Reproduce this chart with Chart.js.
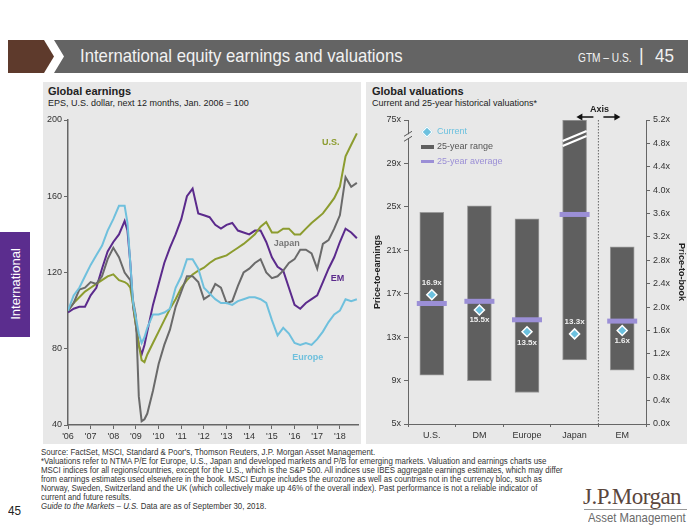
<!DOCTYPE html>
<html>
<head>
<meta charset="utf-8">
<script src="https://cdn.jsdelivr.net/npm/chart.js@4.4.0/dist/chart.umd.min.js"></script>
<style>
  body { margin: 0; width: 700px; height: 525px; background: #fff; position: relative; overflow: hidden;
         font-family: 'Liberation Sans', Arial, sans-serif; color: #222; }
  .abs { position: absolute; white-space: nowrap; }
  .panel { position: absolute; background: #e8e8e8; top: 82px; height: 362px; }
  .ptitle { position: absolute; font-weight: bold; font-size: 11px; }
  .psub { position: absolute; font-size: 9px; }
  .narrow { transform-origin: left top; }
  #foot { position: absolute; left: 41px; top: 448px; font-size: 8.5px; line-height: 9px; color: #333;
          transform: scaleX(0.93); transform-origin: left top; white-space: nowrap; }
  canvas { position: absolute; }
</style>
</head>
<body>

<svg class="abs" style="left:0;top:0" width="700" height="80">
  <polygon points="8,40 44,40 54,56.5 44,73 8,73" fill="#5e3a2c"/>
  <polygon points="54,40 688,40 688,73 54,73 64,56.5" fill="#646464"/>
</svg>
<div class="abs narrow" style="left:80px;top:45px;font-size:19px;color:#f2f2f2;transform:scaleX(0.88);">International equity earnings and valuations</div>
<div class="abs narrow" style="left:578px;top:50px;font-size:13px;color:#f2f2f2;transform:scaleX(0.78);">GTM – U.S.</div>
<div class="abs narrow" style="left:639px;top:45px;font-size:18px;color:#f2f2f2;">|</div>
<div class="abs narrow" style="left:655px;top:45px;font-size:19px;color:#f2f2f2;transform:scaleX(0.9);">45</div>

<div class="abs" style="left:0;top:232px;width:30px;height:105px;background:#5b2d8e;"></div>
<div class="abs" style="left:15px;top:284px;transform:translate(-50%,-50%) rotate(-90deg);color:#fff;font-size:13px;">International</div>

<div class="panel" style="left:43px;width:318px;"></div>
<div class="panel" style="left:366px;width:321px;"></div>

<div class="ptitle" style="left:48px;top:85px;">Global earnings</div>
<div class="psub" style="left:48px;top:98px;">EPS, U.S. dollar, next 12 months, Jan. 2006 = 100</div>
<div class="ptitle" style="left:372px;top:85px;">Global valuations</div>
<div class="psub" style="left:372px;top:98px;">Current and 25-year historical valuations*</div>

<canvas id="earnings" width="318" height="362" style="left:43px;top:82px;"></canvas>
<canvas id="valuations" width="321" height="362" style="left:366px;top:82px;"></canvas>

<!-- legend of the valuations chart -->
<div class="abs" style="left:423px;top:128px;width:6px;height:6px;background:#6cc1df;border:1px solid #fff;transform:rotate(45deg);"></div>
<div class="abs" style="left:437px;top:126px;font-size:9px;color:#6cc1df;">Current</div>
<div class="abs" style="left:421px;top:145px;width:13px;height:4px;background:#5f5f5f;"></div>
<div class="abs" style="left:437px;top:141px;font-size:9px;color:#555;">25-year range</div>
<div class="abs" style="left:421px;top:160px;width:13px;height:3px;background:#9b8fd6;"></div>
<div class="abs" style="left:437px;top:156px;font-size:9px;color:#9b8fd6;">25-year average</div>

<div id="foot">
Source: FactSet, MSCI, Standard &amp; Poor's, Thomson Reuters, J.P. Morgan Asset Management.<br>
*Valuations refer to NTMA P/E for Europe, U.S., Japan and developed markets and P/B for emerging markets. Valuation and earnings charts use<br>
MSCI indices for all regions/countries, except for the U.S., which is the S&amp;P 500. All indices use IBES aggregate earnings estimates, which may differ<br>
from earnings estimates used elsewhere in the book. MSCI Europe includes the eurozone as well as countries not in the currency bloc, such as<br>
Norway, Sweden, Switzerland and the UK (which collectively make up 46% of the overall index). Past performance is not a reliable indicator of<br>
current and future results.<br>
<i>Guide to the Markets – U.S.</i> Data are as of September 30, 2018.
</div>
<div class="abs narrow" style="left:8px;top:503px;font-size:13px;color:#222;transform:scaleX(0.9);">45</div>
<div class="abs" style="left:583px;top:484px;font-family:'Liberation Serif',serif;font-size:23px;color:#5a463c;letter-spacing:-0.5px;">J.P.Morgan</div>
<div class="abs" style="left:584px;top:509px;width:103px;height:1px;background:#999;"></div>
<div class="abs narrow" style="left:588px;top:510px;font-size:13.5px;color:#6a6a6a;transform:scaleX(0.84);">Asset Management</div>

<script>
// ---------- Global earnings (EPS index, Jan. 2006 = 100) ----------
const years = [2006, 2006.25, 2006.5, 2006.75, 2007, 2007.25, 2007.5, 2007.75,
  2008, 2008.25, 2008.5, 2008.625, 2008.75, 2008.875,
  2009, 2009.125, 2009.25, 2009.375, 2009.5, 2009.75,
  2010, 2010.25, 2010.5, 2010.75, 2011, 2011.25, 2011.5, 2011.75,
  2012, 2012.25, 2012.5, 2012.75, 2013, 2013.25, 2013.5, 2013.75,
  2014, 2014.25, 2014.5, 2014.75, 2015, 2015.25, 2015.5, 2015.75,
  2016, 2016.25, 2016.5, 2016.75, 2017, 2017.25, 2017.5, 2017.75,
  2018, 2018.25, 2018.5, 2018.75];

const usEps = [100, 104, 107, 110, 112, 114, 116, 118,
  119, 116, 115, 114, 112, 103,
  92, 82, 74, 73, 77, 83,
  89, 95, 101, 106, 112, 116, 119, 121,
  122.5, 125, 127, 128, 129, 131, 133, 135,
  137.5, 140, 144, 146.5, 141, 141, 143, 143,
  140, 140, 143, 146, 148.5, 151, 155, 159,
  165, 181, 187, 193];

const japanEps = [100, 104, 111, 112, 115, 114, 118, 127,
  133, 128, 120, 118, 116, 105,
  97, 55, 42, 43, 46, 58,
  72, 82, 90, 102, 110, 118, 118, 115,
  106, 108, 114, 112, 104, 105, 113, 120,
  122, 125, 127, 120, 117, 118, 121, 125,
  127, 132, 132, 130, 122, 135, 137, 143,
  150, 170, 165, 167];

const emEps = [99, 101, 102, 102, 108, 112, 122, 131,
  136, 140, 147, 142, 125, 102,
  92, 82, 77, 82, 89, 103,
  114, 125, 133, 140, 148, 160, 164, 151,
  150, 149, 145, 143, 145, 146, 142, 141,
  140, 142, 142, 136, 128, 123, 121, 112,
  103, 101, 104, 106, 108, 115, 122, 128,
  136, 143, 141, 138];

const europeEps = [100, 108, 112, 118, 124, 129, 134, 142,
  148, 155, 155, 146, 125, 104,
  96, 88, 83, 86, 91, 98,
  98, 99, 101, 112, 118, 127, 127, 122,
  112, 109, 106, 104, 104, 103, 105, 106,
  107, 107, 106, 104, 95, 87, 91, 88,
  83, 82, 83, 82, 85, 89, 94, 98,
  100, 106, 105, 106];

const yearLabels = ["'06", "'07", "'08", "'09", "'10", "'11", "'12", "'13", "'14", "'15", "'16", "'17", "'18"];

// ---------- Global valuations ----------
const regions = ['U.S.', 'DM', 'Europe', 'Japan', 'EM'];
const rangeLow = [9.5, 9.0, 7.9, 10.9, 0.92];
const rangeHigh = [24.5, 25.1, 23.9, 75, 3.03];
const avgVal = [16.1, 16.3, 14.6, 24.3, 1.76];
const currentVal = [16.9, 15.5, 13.5, 13.3, 1.6];
const onPriceToBook = [false, false, false, false, true];   // EM is P/B, the rest P/E

const colors = {
  us: '#8c9c2f', japan: '#6a6a6a', em: '#5b2a8c', europe: '#6fc0dd',
  range: '#5f5f5f', avg: '#9b8fd6', current: '#6cc1df', axis: '#666'
};

Chart.defaults.font.family = "'Liberation Sans', Arial, sans-serif";
Chart.defaults.font.size = 9;
Chart.defaults.color = '#333';

function series(vals) {
  return years.map((x, i) => ({ x: x, y: vals[i] }));
}

const tagPlugin = {
  id: 'tags',
  afterDatasetsDraw(chart) {
    const tags = [
      { text: 'U.S.', x: 2017.6, y: 188, color: colors.us },
      { text: 'Japan', x: 2015.65, y: 135.4, color: '#777' },
      { text: 'EM', x: 2017.9, y: 117, color: colors.em },
      { text: 'Europe', x: 2016.58, y: 75.4, color: colors.europe }
    ];
    const ctx = chart.ctx, sx = chart.scales.x, sy = chart.scales.y;
    ctx.save();
    ctx.font = "bold 9px 'Liberation Sans', Arial";
    ctx.textAlign = 'center';
    ctx.textBaseline = 'middle';
    tags.forEach(t => {
      ctx.fillStyle = t.color;
      ctx.fillText(t.text, sx.getPixelForValue(t.x), sy.getPixelForValue(t.y));
    });
    ctx.restore();
  }
};

new Chart(document.getElementById('earnings'), {
  type: 'line',
  data: {
    datasets: [
      { label: 'Europe', data: series(europeEps), borderColor: colors.europe },
      { label: 'Japan', data: series(japanEps), borderColor: colors.japan },
      { label: 'U.S.', data: series(usEps), borderColor: colors.us },
      { label: 'EM', data: series(emEps), borderColor: colors.em }
    ]
  },
  options: {
    responsive: false,
    animation: false,
    layout: { padding: { top: 38, right: 3, left: 0, bottom: 0 } },
    elements: { point: { radius: 0 }, line: { borderWidth: 2, tension: 0 } },
    plugins: { legend: { display: false }, tooltip: { enabled: false } },
    scales: {
      x: {
        type: 'linear', min: 2006, max: 2018.8,
        afterFit: s => { s.height = 19; },
        ticks: { stepSize: 1, includeBounds: false, autoSkip: false, maxRotation: 0, padding: 2,
                 callback: v => yearLabels[v - 2006] },
        grid: { drawOnChartArea: false, tickLength: 4, color: colors.axis },
        border: { color: colors.axis, width: 1.5 }
      },
      y: {
        min: 40, max: 200,
        afterFit: s => { s.width = 25; },
        ticks: { stepSize: 40, padding: 2 },
        grid: { drawOnChartArea: false, tickLength: 4, color: colors.axis },
        border: { color: colors.axis, width: 1.5 }
      }
    }
  },
  plugins: [tagPlugin]
});

// the P/E axis is broken above 29x: 29x..75x is squeezed into one step
const brk = v => v <= 29 ? v : 29 + (v - 29) * 4 / 46;

const pe = arr => arr.map((v, i) => onPriceToBook[i] ? null : v);
const pb = arr => arr.map((v, i) => onPriceToBook[i] ? v : null);

const rangePE = rangeLow.map((lo, i) => onPriceToBook[i] ? null : [brk(lo), brk(rangeHigh[i])]);
const rangePB = rangeLow.map((lo, i) => onPriceToBook[i] ? [lo, rangeHigh[i]] : null);

const barStyle = { type: 'bar', backgroundColor: colors.range, borderColor: '#9a9a9a', borderWidth: 1,
                   borderSkipped: false, barThickness: 24, grouped: false, order: 3 };
const avgStyle = { type: 'line', showLine: false, pointStyle: 'line', pointRadius: 15,
                   pointBorderWidth: 5, borderColor: colors.avg, order: 2 };
const curStyle = { type: 'line', showLine: false, pointStyle: 'rectRot', pointRadius: 5,
                   pointBackgroundColor: colors.current, pointBorderColor: '#fff', pointBorderWidth: 1.5, order: 1 };

const valuationPlugin = {
  id: 'valuationMarks',
  afterDatasetsDraw(chart) {
    const ctx = chart.ctx, a = chart.chartArea, sx = chart.scales.x, sy = chart.scales.y;
    ctx.save();
    // separator between the P/E and the P/B group
    const sep = (sx.getPixelForValue(3) + sx.getPixelForValue(4)) / 2;
    ctx.strokeStyle = '#666';
    ctx.lineWidth = 1;
    ctx.setLineDash([1.5, 1.5]);
    ctx.beginPath(); ctx.moveTo(sep, a.top); ctx.lineTo(sep, a.bottom); ctx.stroke();
    ctx.setLineDash([]);
    // "Axis" caption with arrows
    ctx.fillStyle = '#222';
    ctx.font = "bold 9px 'Liberation Sans', Arial";
    ctx.textAlign = 'center';
    ctx.textBaseline = 'middle';
    ctx.fillText('Axis', sep + 1, a.top - 10);
    const ay = a.top - 3;
    ctx.strokeStyle = '#111'; ctx.lineWidth = 1.5;
    [[-5, -20], [5, 20]].forEach(([from, to]) => {
      ctx.beginPath(); ctx.moveTo(sep + from, ay); ctx.lineTo(sep + to, ay); ctx.stroke();
      const d = Math.sign(to);
      ctx.fillStyle = '#111';
      ctx.beginPath();
      ctx.moveTo(sep + to + d * 2, ay); ctx.lineTo(sep + to - d * 4, ay - 3.5); ctx.lineTo(sep + to - d * 4, ay + 3.5);
      ctx.closePath(); ctx.fill();
    });
    // break marks on the Japan bar and on the P/E axis
    const jx = sx.getPixelForValue(3), yb = sy.getPixelForValue(31.3);
    ctx.strokeStyle = '#fff'; ctx.lineWidth = 2;
    [-2.5, 2.5].forEach(o => {
      ctx.beginPath(); ctx.moveTo(jx - 12, yb + o + 5); ctx.lineTo(jx + 12, yb + o - 5); ctx.stroke();
    });
    const ly = sy.getPixelForValue(31.5);
    ctx.strokeStyle = '#e8e8e8'; ctx.lineWidth = 3;
    ctx.beginPath(); ctx.moveTo(a.left, ly - 2); ctx.lineTo(a.left, ly + 2); ctx.stroke();
    ctx.strokeStyle = '#555'; ctx.lineWidth = 1;
    [-2.5, 2.5].forEach(o => {
      ctx.beginPath(); ctx.moveTo(a.left - 4, ly + o + 2.5); ctx.lineTo(a.left + 4, ly + o - 2.5); ctx.stroke();
    });
    // value labels next to the current diamonds
    const side = [-12, 10, 11, -12, 10];
    ctx.font = "bold 8px 'Liberation Sans', Arial";
    ctx.fillStyle = '#f0f0f0';
    currentVal.forEach((v, i) => {
      const scale = onPriceToBook[i] ? chart.scales.y1 : sy;
      const x = sx.getPixelForValue(i), y = scale.getPixelForValue(v);
      ctx.fillText(v.toFixed(1) + 'x', x, y + side[i]);
    });
    ctx.restore();
  }
};

new Chart(document.getElementById('valuations'), {
  type: 'bar',
  data: {
    labels: regions,
    datasets: [
      Object.assign({ label: '25-year range', data: rangePE, yAxisID: 'y' }, barStyle),
      Object.assign({ label: '25-year range EM', data: rangePB, yAxisID: 'y1' }, barStyle),
      Object.assign({ label: '25-year average', data: pe(avgVal).map(v => v === null ? null : brk(v)), yAxisID: 'y' }, avgStyle),
      Object.assign({ label: '25-year average EM', data: pb(avgVal), yAxisID: 'y1' }, avgStyle),
      Object.assign({ label: 'Current', data: pe(currentVal), yAxisID: 'y' }, curStyle),
      Object.assign({ label: 'Current EM', data: pb(currentVal), yAxisID: 'y1' }, curStyle)
    ]
  },
  options: {
    responsive: false,
    animation: false,
    layout: { padding: { top: 38, left: 0, right: 0, bottom: 0 } },
    plugins: { legend: { display: false }, tooltip: { enabled: false } },
    scales: {
      x: {
        afterFit: s => { s.height = 19; },
        ticks: { padding: 3, font: { size: 9 } },
        grid: { drawOnChartArea: false, offset: true, tickLength: 3, color: colors.axis },
        border: { color: colors.axis, width: 1 }
      },
      y: {
        position: 'left', min: 5, max: 33,
        afterFit: s => { s.width = 42; },
        ticks: { stepSize: 4, padding: 3, callback: v => v === 33 ? '75x' : v + 'x' },
        title: { display: true, text: 'Price-to-earnings', font: { size: 9, weight: 'bold' }, color: '#222', padding: { top: 6, bottom: 0 } },
        grid: { drawOnChartArea: false, tickLength: 4, color: colors.axis },
        border: { color: colors.axis, width: 1 }
      },
      y1: {
        position: 'right', min: 0, max: 5.2,
        afterFit: s => { s.width = 41; },
        ticks: { stepSize: 0.4, padding: 3, callback: v => v.toFixed(1) + 'x' },
        title: { display: true, text: 'Price-to-book', font: { size: 9, weight: 'bold' }, color: '#222', padding: 0 },
        grid: { drawOnChartArea: false, tickLength: 4, color: colors.axis },
        border: { color: colors.axis, width: 1 }
      }
    }
  },
  plugins: [valuationPlugin]
});
</script>
</body>
</html>
